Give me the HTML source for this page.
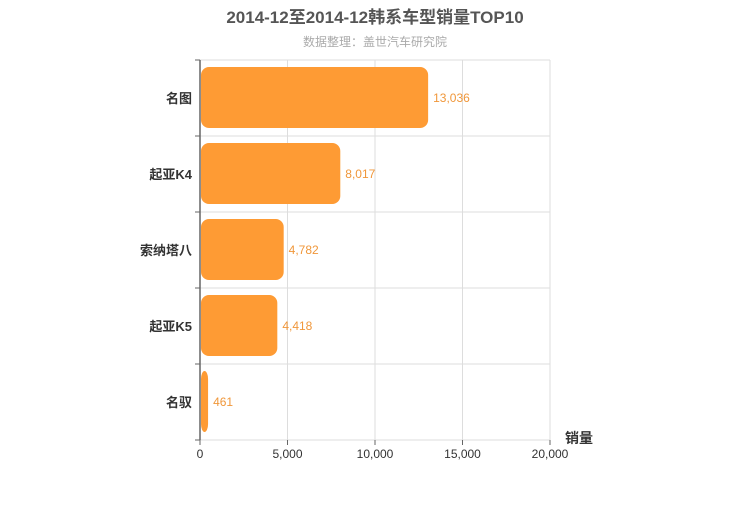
<!DOCTYPE html>
<html><head><meta charset="utf-8"><style>
body{margin:0;background:#fff;width:750px;height:500px;overflow:hidden;font-family:"Liberation Sans","Noto Sans CJK SC",sans-serif;}
</style></head><body>
<svg id="c" width="750" height="500" xmlns="http://www.w3.org/2000/svg">
<text x="375" y="23" text-anchor="middle" font-size="17" font-weight="bold" fill="#555">2014-12至2014-12韩系车型销量TOP10</text>
<text x="375" y="46" text-anchor="middle" font-size="12" fill="#aaa">数据整理：盖世汽车研究院</text>
<g id="grid"></g><g id="bars"></g><g id="axes"></g>
</svg>
<script>
const categories=["名图","起亚K4","索纳塔八","起亚K5","名驭"];
const values=[13036,8017,4782,4418,461];
const xTicks=[0,5000,10000,15000,20000];
const xMax=20000;
const L=200,R=550,T=60,B=440;
const NS="http://www.w3.org/2000/svg";
const x=v=>L+v/xMax*(R-L);
const band=(B-T)/categories.length;
const y=i=>T+i*band;
function mk(tag,attrs,parent,text){const e=document.createElementNS(NS,tag);for(const k in attrs)e.setAttribute(k,attrs[k]);if(text!==undefined)e.textContent=text;document.getElementById(parent).appendChild(e);return e;}
xTicks.forEach((t,i)=>{
 if(i>0){const g=mk('line',{x1:x(t),x2:x(t),y1:T,y2:B,stroke:'#ddd'},'grid');
 
 }
 const tl=mk('line',{x1:x(t),x2:x(t),y1:B,y2:B+5,stroke:'#666'},'axes');
 
 
 const lb=mk('text',{x:x(t),y:B+18,'text-anchor':'middle','font-size':12,fill:'#333'},'axes',t.toLocaleString('en-US'));
 
 
});
for(let i=0;i<=categories.length;i++){
 const g=mk('line',{x1:L,x2:R,y1:y(i),y2:y(i),stroke:'#ddd'},'grid');
 
 
 const tk=mk('line',{x1:L-5,x2:L,y1:y(i),y2:y(i),stroke:'#666'},'axes');
 
 
}
categories.forEach((c,i)=>{
 const by=y(i)+7,bh=band-15;
 const r=mk('rect',{x:L+1,y:by,width:Math.max(0,x(values[i])-L-1),height:bh,rx:8,ry:8,fill:'#fe9b34'},'bars');
 
 
 const v=mk('text',{x:x(values[i])+5,y:y(i)+band/2+4,'font-size':12,fill:'#f0973a'},'bars',values[i].toLocaleString('en-US'));
 
 
 const cl=mk('text',{x:L-8,y:y(i)+band/2+5,'text-anchor':'end','font-size':13,'font-weight':'bold',fill:'#333'},'axes',c);
 
 
});
const ax=mk('line',{x1:L,x2:L,y1:T,y2:B,stroke:'#666','stroke-width':1.5},'axes');


const an=mk('text',{x:565,y:443,'font-size':14,'font-weight':'bold',fill:'#333'},'axes','销量');


</script>
</body></html>
